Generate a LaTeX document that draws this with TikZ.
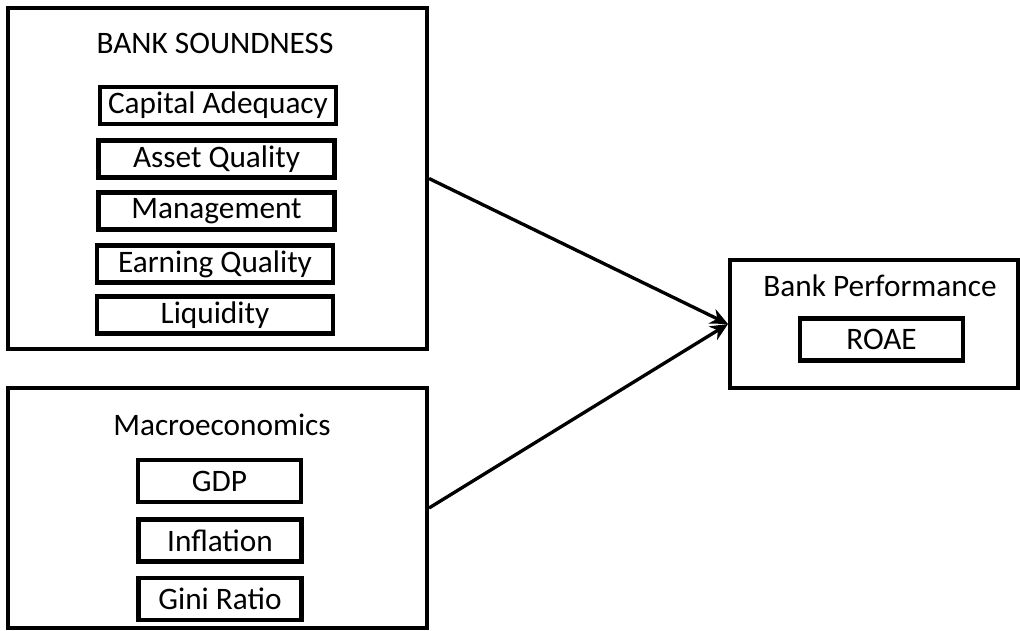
\documentclass[tikz,border=0pt]{standalone}
\usepackage{fontspec}
\setmainfont{Carlito}
\usetikzlibrary{arrows.meta, positioning}
\tikzset{
  groupbox/.style={rectangle, draw, line width=2.3pt, inner sep=0pt},
  itembox/.style={rectangle, draw, line width=2.3pt, minimum width=4.72cm, minimum height=0.74cm, inner sep=0pt},
  smallbox/.style={rectangle, draw, line width=2.3pt, minimum width=3.26cm, minimum height=0.84cm, inner sep=0pt},
  title/.style={inner sep=0pt},
  link/.style={->, line width=1.9pt},
}

\begin{document}
\begin{tikzpicture}[>={Stealth[length=10pt, width=9pt]}, font=\fontsize{17.8}{20}\selectfont]
  \useasboundingbox (0,0) rectangle (20.4,-12.6);
  % bank soundness
  \node[groupbox, minimum width=8.38cm, minimum height=6.82cm] (sound) at (4.35,-3.57) {};
  \node[title] (soundT) at (4.3,-0.86) {BANK SOUNDNESS};
  \node[itembox] (cap)  at (4.36,-2.11) {Capital Adequacy};
  \node[itembox] (asset) at (4.33,-3.18) {Asset Quality};
  \node[itembox] (mgmt) at (4.33,-4.22) {Management};
  \node[itembox] (earn) at (4.30,-5.28) {Earning Quality};
  \node[itembox] (liq)  at (4.30,-6.30) {Liquidity};
  % macroeconomics
  \node[groupbox, minimum width=8.38cm, minimum height=4.80cm] (macro) at (4.35,-10.16) {};
  \node[title] (macroT) at (4.44,-8.50) {Macroeconomics};
  \node[smallbox] (gdp)  at (4.39,-9.62)  {GDP};
  \node[smallbox] (infl) at (4.40,-10.81) {Inflation};
  \node[smallbox] (gini) at (4.40,-11.98) {Gini Ratio};
  % bank performance
  \node[groupbox, minimum width=5.76cm, minimum height=2.56cm] (perf) at (17.48,-6.48) {};
  \node[title] (perfT) at (17.60,-5.72) {Bank Performance};
  \node[smallbox] (roae) at (17.63,-6.79) {ROAE};
  \draw[link] (sound.east) -- (perf.west);
  \draw[link] (macro.east) -- (perf.west);
\end{tikzpicture}
\end{document}
